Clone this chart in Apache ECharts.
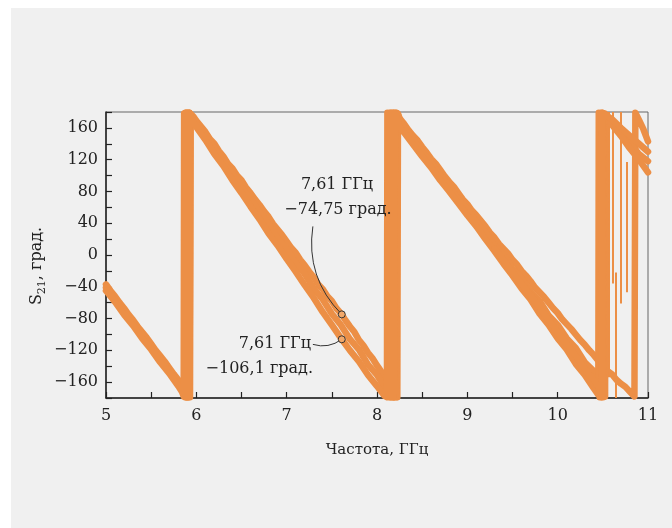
<!DOCTYPE html>
<html>
<head>
<meta charset="utf-8">
<script src="https://cdn.jsdelivr.net/npm/echarts@6/dist/echarts.min.js"></script>
<style>
  html, body { margin: 0; padding: 0; background: #ffffff; }
  #chart { position: absolute; left: 11px; top: 8px; width: 661px; height: 520px; background: #f0f0f0; }
</style>
</head>
<body>
<div id="chart"></div>
<script>
// частота, ГГц / фаза S21, град. (несколько проходов измерения)
const traceUpper = [
  [5.0, -37], [5.05, -45], [5.1, -52], [5.15, -60], [5.2, -67], [5.25, -75], [5.3, -82], [5.35, -90],
  [5.4, -97], [5.45, -104], [5.5, -112], [5.55, -120], [5.6, -127], [5.65, -134], [5.7, -142],
  [5.75, -150], [5.8, -157], [5.85, -165], [5.88, -172],
  [5.89, -179], [5.895, 179], [5.905, -179], [5.915, 179], [5.925, -178], [5.935, 178],
  [5.97, 174], [6.0, 169], [6.05, 162], [6.1, 155], [6.15, 146], [6.2, 140], [6.25, 131], [6.3, 124],
  [6.35, 115], [6.4, 109], [6.45, 100], [6.5, 94], [6.55, 85], [6.6, 78], [6.65, 70], [6.7, 63],
  [6.75, 55], [6.8, 48], [6.85, 39], [6.9, 32], [6.95, 25], [7.0, 17], [7.05, 9], [7.1, 3],
  [7.15, -6], [7.2, -13], [7.25, -21], [7.3, -28], [7.35, -37], [7.4, -43], [7.45, -52], [7.5, -58],
  [7.55, -67], [7.61, -74.75], [7.65, -82], [7.7, -90], [7.75, -97], [7.8, -107], [7.85, -114],
  [7.9, -123], [7.95, -130], [8.0, -139], [8.05, -147], [8.1, -156], [8.15, -163], [8.18, -170],
  [8.19, -179], [8.195, 179], [8.205, -178], [8.215, 179], [8.225, -179], [8.232, 178],
  [8.25, 172], [8.3, 165], [8.35, 157], [8.4, 150], [8.45, 144], [8.5, 136], [8.55, 129], [8.6, 121],
  [8.65, 115], [8.7, 107], [8.75, 99], [8.8, 92], [8.85, 86], [8.9, 78], [8.95, 70], [9.0, 64],
  [9.05, 56], [9.1, 50], [9.15, 43], [9.2, 36], [9.25, 28], [9.3, 22], [9.35, 14], [9.4, 8],
  [9.45, 2], [9.5, -6], [9.55, -12], [9.6, -20], [9.65, -26], [9.7, -33], [9.75, -41], [9.8, -47],
  [9.85, -53], [9.9, -60], [9.95, -67], [10.0, -73], [10.05, -81], [10.1, -87], [10.15, -93],
  [10.2, -100], [10.25, -107], [10.3, -113], [10.35, -120], [10.4, -126], [10.45, -133], [10.5, -139],
  [10.55, -146], [10.6, -150], [10.65, -157], [10.7, -162], [10.75, -166], [10.8, -172], [10.85, -178],
  [10.86, 179], [10.9, 170], [10.95, 158], [11.0, 143]
];

const traceMiddle = [
  [5.0, -41], [5.1, -57], [5.2, -70], [5.3, -87], [5.4, -100], [5.5, -117], [5.6, -130], [5.7, -147],
  [5.8, -160], [5.86, -170], [5.875, -177],
  [5.88, 179], [5.89, -179], [5.9, 179], [5.91, -179], [5.92, 179], [5.93, -179], [5.937, 176],
  [5.97, 170], [6.0, 166], [6.1, 148], [6.2, 135], [6.3, 116], [6.4, 103], [6.5, 85], [6.6, 71],
  [6.7, 53], [6.8, 39], [6.9, 21], [7.0, 8], [7.1, -10], [7.2, -24], [7.3, -42], [7.4, -56],
  [7.5, -74], [7.6, -88], [7.7, -106], [7.8, -119], [7.9, -138], [8.0, -151], [8.1, -169], [8.14, -176],
  [8.15, -179], [8.155, 179], [8.17, -179], [8.18, 179], [8.195, -179], [8.205, 179], [8.215, -179], [8.225, 178],
  [8.3, 159], [8.4, 146], [8.5, 129], [8.6, 117], [8.7, 100], [8.8, 87], [8.9, 70], [9.0, 58],
  [9.1, 41], [9.2, 29], [9.3, 12], [9.4, 0], [9.5, -17], [9.6, -29], [9.7, -46], [9.8, -58],
  [9.9, -76], [10.0, -88], [10.1, -105], [10.2, -117], [10.3, -135], [10.4, -146], [10.45, -156],
  [10.5, -163], [10.515, -175],
  [10.52, 178], [10.525, -178], [10.53, 177],
  [10.6, 169], [10.7, 155], [10.8, 142], [10.9, 127], [11.0, 118]
];

const traceLower = [
  [5.0, -45], [5.1, -59], [5.2, -75], [5.3, -89], [5.4, -105], [5.5, -119], [5.6, -135], [5.7, -149],
  [5.8, -165], [5.84, -172], [5.86, -178],
  [5.865, 178], [5.875, -179], [5.885, 179], [5.895, -179], [5.905, 179], [5.915, -179], [5.925, 179],
  [5.94, 172], [6.0, 161], [6.1, 145], [6.2, 127], [6.3, 112], [6.4, 94], [6.5, 78], [6.6, 61],
  [6.7, 45], [6.8, 27], [6.9, 12], [7.0, -5], [7.1, -21], [7.2, -38], [7.3, -54], [7.4, -72],
  [7.5, -88], [7.61, -106.1], [7.7, -120], [7.8, -134], [7.9, -151], [8.0, -165], [8.08, -177],
  [8.11, -179], [8.115, 179], [8.125, -179], [8.135, 179], [8.145, -179], [8.155, 179], [8.165, -179],
  [8.175, 179], [8.185, -179], [8.2, 178],
  [8.25, 161], [8.3, 154], [8.4, 139], [8.5, 124], [8.6, 110], [8.7, 94], [8.8, 80], [8.9, 65],
  [9.0, 50], [9.1, 36], [9.2, 20], [9.3, 5], [9.4, -11], [9.5, -26], [9.6, -42], [9.7, -56],
  [9.8, -74], [9.9, -88], [10.0, -105], [10.1, -119], [10.2, -137], [10.3, -151], [10.4, -168], [10.45, -176],
  [10.455, 179], [10.465, -179], [10.475, 179], [10.485, -179], [10.495, 179], [10.505, -179], [10.51, 178],
  [10.55, 172], [10.6, 164], [10.7, 150], [10.8, 134], [10.9, 120], [11.0, 104]
];

// проход, расходящийся после 9,3 ГГц
const traceSpread = [
  [9.3, 8], [9.4, -6], [9.5, -22], [9.6, -36], [9.7, -51], [9.8, -66], [9.9, -82], [10.0, -97],
  [10.1, -112], [10.2, -127], [10.3, -143], [10.4, -157], [10.45, -166], [10.48, -174],
  [10.49, -179], [10.492, 179],
  [10.5, 178], [10.6, 171], [10.7, 160], [10.8, 150], [10.9, 140], [11.0, 130]
];

// одиночные выбросы: [частота, от, до]
const spikes = [
  [10.56, 180, -154], [10.61, 180, -36], [10.64, -22, -180], [10.70, 180, -61], [10.77, 117, -47]
];

// отмеченные точки и выноски к подписям
const markers = [[7.61, -74.75], [7.61, -106.1]];
const leaders = [
  [[7.29, 36], [7.61, -74.75]],
  [[7.29, -112.5], [7.61, -106.1]]
];

const orange = '#ec8f46';
const font = 'DejaVu Serif';

function traceSeries (data) {
  return {
    type: 'line',
    data: data,
    symbol: 'none',
    clip: true,
    silent: true,
    lineStyle: { color: orange, width: 6.5, join: 'round', cap: 'round' },
    z: 2
  };
}

let myChart = echarts.init(document.getElementById('chart'));
myChart.setOption({
  animation: false,
  backgroundColor: 'transparent',
  grid: {
    left: 95, top: 104, right: 24, bottom: 130,
    containLabel: false,
    show: true,
    borderColor: '#666',
    borderWidth: 1,
    backgroundColor: 'transparent'
  },
  xAxis: {
    type: 'value',
    min: 5,
    max: 11,
    interval: 0.5,
    name: 'Частота, ГГц',
    nameLocation: 'middle',
    nameGap: 45,
    nameTextStyle: { fontFamily: font, fontSize: 15, color: '#222' },
    axisLine: { show: true, onZero: false, lineStyle: { color: '#222', width: 1.5 } },
    axisTick: { show: true, inside: true, length: 6, lineStyle: { color: '#222', width: 1.2 } },
    axisLabel: {
      margin: 10,
      fontFamily: font,
      fontSize: 16,
      color: '#222',
      formatter: v => (Number.isInteger(v) ? String(v) : '')
    },
    splitLine: { show: false }
  },
  yAxis: {
    type: 'value',
    min: -180,
    max: 180,
    interval: 20,
    axisLine: { show: true, onZero: false, lineStyle: { color: '#222', width: 1.5 } },
    axisTick: { show: true, inside: true, length: 6, lineStyle: { color: '#222', width: 1.2 } },
    axisLabel: {
      margin: 8,
      fontFamily: font,
      fontSize: 16,
      color: '#222',
      formatter: v => (v % 40 === 0 ? String(v).replace('-', '\u2212') : '')
    },
    splitLine: { show: false }
  },
  series: [
    traceSeries(traceUpper),
    traceSeries(traceMiddle),
    traceSeries(traceLower),
    traceSeries(traceSpread),
    {
      type: 'lines',
      coordinateSystem: 'cartesian2d',
      silent: true,
      z: 2,
      lineStyle: { color: orange, width: 2, opacity: 1 },
      data: spikes.map(s => ({ coords: [[s[0], s[1]], [s[0], s[2]]] }))
    },
    {
      type: 'lines',
      coordinateSystem: 'cartesian2d',
      silent: true,
      z: 5,
      lineStyle: { color: '#333', width: 1, opacity: 1, curveness: -0.25 },
      data: leaders.map(l => ({ coords: l }))
    },
    {
      type: 'scatter',
      data: markers,
      symbol: 'circle',
      symbolSize: 7,
      silent: true,
      z: 6,
      itemStyle: { color: '#f2a86a', borderColor: '#333', borderWidth: 1, opacity: 1 }
    }
  ],
  graphic: [
    {
      type: 'text',
      x: 26, y: 258,
      z: 100,
      rotation: Math.PI / 2,
      style: {
        text: '{a|S}{b|21}{a|, град.}',
        fill: '#222',
        align: 'center',
        verticalAlign: 'middle',
        rich: {
          a: { fontFamily: font, fontSize: 16, lineHeight: 22, fill: '#222' },
          b: { fontFamily: font, fontSize: 11, lineHeight: 22, verticalAlign: 'bottom', fill: '#222' }
        }
      }
    },
    {
      type: 'text',
      x: 326, y: 177,
      z: 100,
      style: { text: '7,61 ГГц', font: '16px "DejaVu Serif"', fill: '#222', align: 'center', verticalAlign: 'middle' }
    },
    {
      type: 'text',
      x: 327, y: 202,
      z: 100,
      style: { text: '\u221274,75 град.', font: '16px "DejaVu Serif"', fill: '#222', align: 'center', verticalAlign: 'middle' }
    },
    {
      type: 'text',
      x: 300, y: 336,
      z: 100,
      style: { text: '7,61 ГГц', font: '16px "DejaVu Serif"', fill: '#222', align: 'right', verticalAlign: 'middle' }
    },
    {
      type: 'text',
      x: 302, y: 361,
      z: 100,
      style: { text: '\u2212106,1 град.', font: '16px "DejaVu Serif"', fill: '#222', align: 'right', verticalAlign: 'middle' }
    }
  ]
});
</script>
</body>
</html>
